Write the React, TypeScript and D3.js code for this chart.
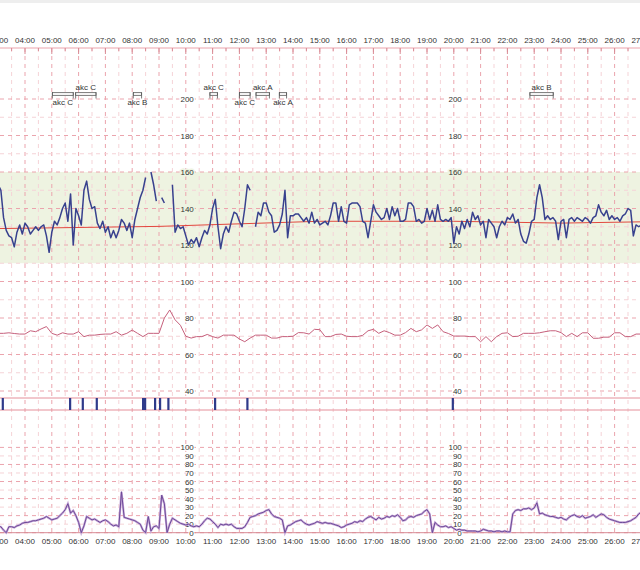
import React from 'react';
import * as d3 from 'd3';

// ---- data ----
const T_START = 3.0;
const FHR_STEP = 0.1;
const fhr: (number | null)[] = [
  153, 150, 135, 128, 125, 124, 119, 127, 131, 126,
  132, 130, 126, 128, 130, 128, 130, 131, 125, 116,
  127, 133, 131, 135, 140, 143, 133, 148, 120, 140,
  136, 131, 150, 155, 145, 140, 141, 132, 129, 133,
  127, 130, 124, 128, 124, 128, 134, 132, 128, 132,
  124, 134, 140, 146, 150, 157, null, 160, 153, 144,
  null, 146, 143, null, null, 153, 127, 131, 129, 130,
  125, 120, 123, 121, 124, 119, 124, 128, 126, 131,
  140, 145, 130, 118, 126, 130, 127, 133, 138, 137,
  133, 130, 140, 153, 150, null, 130, 138, 136, 143,
  143, 138, 136, 127, 128, 131, 137, 150, 124, 136,
  136, 137, 137, 135, 133, 135, 132, 138, 132, 134,
  131, 132, 133, 131, 136, 143, 143, 133, 141, 133,
  132, 142, 143, 143, 143, 141, 133, 132, 124, 133,
  142, 138, 136, 134, 135, 140, 134, 141, 136, 140,
  133, 133, 134, 143, 143, 141, 133, 134, 132, 133,
  140, 134, 139, 133, 142, 134, 133, 134, 133, 135,
  121, 130, 126, 133, 129, 134, 130, 138, 134, 136,
  131, 133, 124, 134, 132, 130, 124, 130, 133, 131,
  135, 134, 137, 132, 134, 126, 122, 121, 126, 133,
  134, 146, 153, 146, 134, 136, 134, 135, 133, 123,
  133, 134, 124, 134, 135, 133, 135, 134, 133, 135,
  134, 132, 135, 136, 142, 138, 136, 139, 134, 136,
  134, 135, 133, 136, 137, 140, 139, 125, 131, 130,
  131,
];

const MHR_STEP = 0.2;
const mhr: number[] = [
  71.6, 71.6, 71.9, 71.5, 71.2, 71.2, 73, 72.5, 74, 75.3,
  71.6, 70.6, 71.9, 71.2, 71.2, 72.5, 69.8, 70.6, 70.6, 71,
  71.2, 71.2, 72.5, 70.6, 71.6, 73.4, 71.6, 69.8, 71.6, 71.6,
  71.6, 80, 84.4, 79, 76, 70, 69, 69.8, 69.8, 71,
  69.8, 69, 70.6, 70.6, 70.6, 68.5, 67, 69, 70.6, 70.6,
  70.6, 69, 69, 69.8, 69.8, 70, 72, 71.9, 71.2, 73.8,
  73.6, 69.8, 69.8, 71, 71.2, 70, 69.8, 69.8, 70.5, 73,
  73.8, 71.6, 73, 72, 70.6, 70.6, 72, 74.3, 72.5, 73.5,
  76.2, 74.3, 76.2, 72.5, 71.5, 70.1, 70.1, 70.1, 69.8, 69.8,
  67, 69.8, 67, 69.8, 71.6, 71.9, 69.8, 70, 71.6, 71.6,
  71.6, 71.9, 72.5, 73, 73, 72, 69.8, 71.6, 69.8, 71.9,
  71.9, 68.9, 68.9, 69.5, 69.5, 71.9, 71.9, 69.8, 69.8, 71.2,
  71.2,
];

const TOCO_STEP = 0.1;
const toco: number[] = [
  7, 7, 3, 0, 7, 7, 6, 8, 9, 11,
  12, 12, 13, 14, 14, 15, 16, 17, 19, 17,
  15, 16, 17, 20, 23, 27, 34, 23, 26, 20,
  12, 0, 8, 19, 17, 15, 16, 14, 12, 14,
  15, 13, 10, 8, 9, 7, 48, 18, 17, 16,
  15, 14, 12, 10, 3, 0, 19, 2, 7, 8,
  5, 44, 34, 0, 10, 17, 15, 13, 11, 10,
  9, 10, 8, 7, 8, 7, 10, 14, 17, 16,
  13, 10, 6, 10, 9, 10, 9, 10, 7, 5,
  5, 5, 7, 12, 18, 19, 20, 22, 23, 24,
  26, 27, 22, 19, 18, 17, 15, 0, 8, 9,
  11, 13, 14, 15, 12, 10, 9, 10, 11, 13,
  12, 11, 12, 11, 11, 10, 9, 8, 6, 7,
  9, 10, 11, 13, 12, 14, 13, 16, 18, 19,
  17, 15, 18, 16, 17, 19, 18, 20, 19, 21,
  18, 14, 15, 18, 19, 18, 20, 21, 22, 25,
  27, 22, 0, 12, 9, 7, 7, 8, 6, 7,
  5, 3, 4, 3, 3, 2, 2, 2, 2, 1,
  2, 4, 3, 2, 2, 1, 2, 2, 1, 2,
  1, 1, 22, 26, 27, 26, 28, 28, 29, 27,
  29, 35, 22, 23, 21, 20, 19, 19, 18, 17,
  18, 16, 15, 18, 20, 21, 19, 18, 20, 17,
  18, 19, 21, 18, 20, 22, 21, 18, 16, 15,
  14, 13, 12, 12, 12, 13, 14, 16, 18, 22,
  24,
];

const baselineT = [3, 9, 15, 20, 24, 27];
const baselineV = [129, 130.2, 133, 133, 132, 132.7];

const eventTimes = [3.168, 5.68, 6.153, 6.675, 8.403, 8.478, 8.851, 9.037, 9.347, 11.09, 12.295, 19.96];

const accelStart = [2.35, 5.02, 5.89, 8.04, 10.9, 12.0, 12.62, 13.49, 22.84];
const accelEnd = [2.85, 5.8, 6.65, 8.35, 11.18, 12.4, 13.12, 13.76, 23.71];
const accelLabel = ['akc C', 'akc C', 'akc C', 'akc B', 'akc C', 'akc C', 'akc A', 'akc A', 'akc B'];
const accelAbove = [true, false, true, false, true, false, true, false, true];

const hourTicks = d3.range(3, 28);
const fhrGrid = d3.range(40, 201, 10);
const fhrLabels = [200, 180, 160, 140, 120, 100, 80, 60, 40];
const tocoGrid = d3.range(0, 101, 10);
const tocoLabels = d3.range(0, 101, 10);
const labelTimes = [10, 20];

// ---- layout ----
const W = 640;
const H = 570;
const x = d3.scaleLinear().domain([4, 27]).range([25, 25 + 23 * 26.8]);
const yF = d3.scaleLinear().domain([40, 200]).range([391, 99]);
const yT = d3.scaleLinear().domain([0, 100]).range([532.7, 447.4]);

const GRID_TOP = 48;
const GRID_BOTTOM = 532.7;
const PINK = '#eba4ad';
const PINK_LIGHT = '#f5d3d7';

function fmtHour(h: number) {
  return String(h).padStart(2, '0') + ':00';
}

export default function App() {
  const fhrPts = fhr.map((v, i) => ({ t: T_START + i * FHR_STEP, v }));
  const mhrPts = mhr.map((v, i) => ({ t: T_START + i * MHR_STEP, v }));
  const tocoPts = toco.map((v, i) => ({ t: T_START + i * TOCO_STEP, v }));
  const basePts = baselineT.map((t, i) => ({ t, v: baselineV[i] }));

  const lineF = d3
    .line<{ t: number; v: number | null }>()
    .defined((d) => d.v != null)
    .x((d) => x(d.t))
    .y((d) => yF(d.v as number));
  const lineT = d3
    .line<{ t: number; v: number }>()
    .x((d) => x(d.t))
    .y((d) => yT(d.v));

  const halfTicks = d3.range(3, 27.51, 0.5);

  return (
    <div style={{ position: 'absolute', left: 0, top: 0 }}>
      <svg
        width={W}
        height={H}
        style={{ display: 'block', fontFamily: '"Liberation Sans", Arial, sans-serif' }}
      >
        <rect x={0} y={0} width={W} height={H} fill="#ffffff" />
        <rect x={0} y={0} width={W} height={3} fill="#eeeeee" />

        {/* normal FHR band */}
        <rect x={0} y={yF(160)} width={W} height={yF(110) - yF(160)} fill="#eef3e1" />

        {/* vertical grid */}
        {halfTicks.map((t) => {
          const major = Math.abs(t - Math.round(t)) < 1e-6;
          return (
            <line
              key={'v' + t}
              x1={x(t)}
              x2={x(t)}
              y1={GRID_TOP}
              y2={GRID_BOTTOM}
              stroke={major ? PINK : PINK_LIGHT}
              strokeWidth={1}
              strokeDasharray="4,4"
            />
          );
        })}

        {/* FHR horizontal grid */}
        {fhrGrid.map((v) => (
          <line
            key={'hf' + v}
            x1={0}
            x2={W}
            y1={yF(v)}
            y2={yF(v)}
            stroke={v % 20 === 0 ? PINK : PINK_LIGHT}
            strokeDasharray="4,4"
          />
        ))}

        {/* TOCO horizontal grid */}
        {tocoGrid.map((v) => (
          <line
            key={'ht' + v}
            x1={0}
            x2={W}
            y1={yT(v)}
            y2={yT(v)}
            stroke={v % 20 === 0 ? PINK : PINK_LIGHT}
            strokeDasharray="4,4"
          />
        ))}

        {/* top axis */}
        <line x1={0} x2={W} y1={GRID_TOP} y2={GRID_TOP} stroke={PINK} strokeWidth={1} />
        {halfTicks.map((t) => {
          const major = Math.abs(t - Math.round(t)) < 1e-6;
          return (
            <line
              key={'tt' + t}
              x1={x(t)}
              x2={x(t)}
              y1={GRID_TOP}
              y2={GRID_TOP + (major ? 6 : 3)}
              stroke="#d88a94"
            />
          );
        })}
        {hourTicks.map((h) => (
          <text key={'tl' + h} x={x(h)} y={43} fontSize={8} fill="#333" textAnchor="middle">
            {fmtHour(h)}
          </text>
        ))}

        {/* bottom axis */}
        <line x1={0} x2={W} y1={GRID_BOTTOM} y2={GRID_BOTTOM} stroke="#d88a94" strokeWidth={1} />
        {hourTicks.map((h) => (
          <text key={'bl' + h} x={x(h)} y={544} fontSize={8} fill="#333" textAnchor="middle">
            {fmtHour(h)}
          </text>
        ))}

        {/* event strip */}
        <line x1={0} x2={W} y1={398} y2={398} stroke="#e58f9a" />
        <line x1={0} x2={W} y1={410} y2={410} stroke="#e58f9a" />
        {eventTimes.map((t, i) => (
          <rect key={'ev' + i} x={x(t) - 1} y={398} width={2.2} height={12} fill="#2f3a8a" />
        ))}

        {/* y labels */}
        {labelTimes.map((lt) => (
          <g key={'lab' + lt}>
            {fhrLabels.map((v) => (
              <text
                key={'fl' + v}
                x={x(lt) + 8}
                y={yF(v) + 3}
                fontSize={8}
                fill="#333"
                textAnchor="end"
                stroke={v <= 160 && v >= 110 ? '#eef3e1' : '#ffffff'}
                strokeWidth={3}
                paintOrder="stroke"
              >
                {v}
              </text>
            ))}
            {tocoLabels.map((v) => (
              <text
                key={'tl' + v}
                x={x(lt) + 8}
                y={yT(v) + 3}
                fontSize={8}
                fill="#333"
                textAnchor="end"
                stroke="#ffffff"
                strokeWidth={2}
                paintOrder="stroke"
              >
                {v}
              </text>
            ))}
          </g>
        ))}

        {/* baseline */}
        <path d={lineF(basePts) || ''} fill="none" stroke="#e2483e" strokeWidth={1} />

        {/* maternal HR */}
        <path d={lineF(mhrPts) || ''} fill="none" stroke="#c6607c" strokeWidth={1} />

        {/* FHR */}
        <path
          d={lineF(fhrPts) || ''}
          fill="none"
          stroke="#38418e"
          strokeWidth={1.5}
          strokeLinejoin="round"
        />

        {/* TOCO */}
        <path d={lineT(tocoPts) || ''} fill="none" stroke="#c7a9d8" strokeWidth={2.2} />
        <path d={lineT(tocoPts) || ''} fill="none" stroke="#6d4a98" strokeWidth={1} />

        {/* accelerations */}
        {accelStart.map((s, i) => {
          const x0 = x(s);
          const x1 = x(accelEnd[i]);
          const cx = (x0 + x1) / 2;
          return (
            <g key={'ac' + i}>
              <rect x={x0} y={92.5} width={x1 - x0} height={3} fill="#f3f3f3" stroke="#555" strokeWidth={0.7} />
              <line x1={x0} x2={x0} y1={92.5} y2={98.5} stroke="#555" strokeWidth={0.8} />
              <line x1={x1} x2={x1} y1={92.5} y2={98.5} stroke="#555" strokeWidth={0.8} />
              <text
                x={cx}
                y={accelAbove[i] ? 89.5 : 104.5}
                fontSize={8}
                fill="#333"
                textAnchor="middle"
              >
                {accelLabel[i]}
              </text>
            </g>
          );
        })}
      </svg>
    </div>
  );
}
